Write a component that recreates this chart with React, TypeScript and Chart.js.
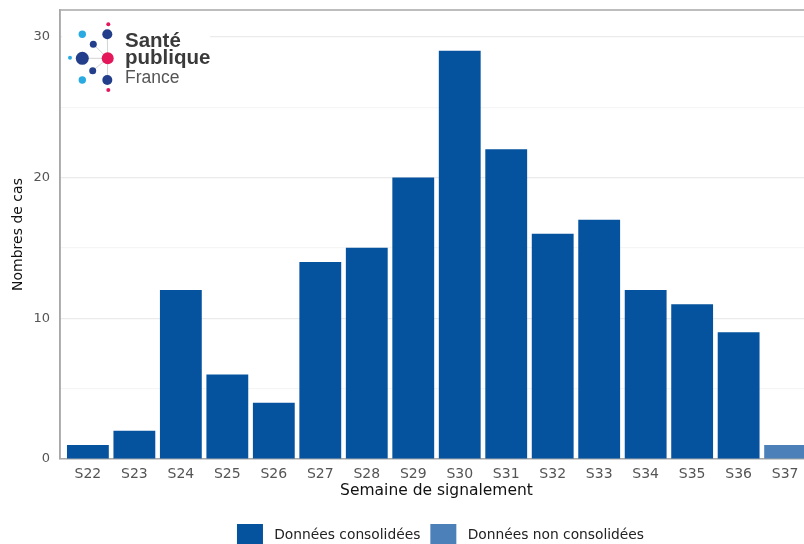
import { useEffect, useRef } from "react";
import { Chart, registerables } from "chart.js";

Chart.register(...registerables);

const weeks = ["S22", "S23", "S24", "S25", "S26", "S27", "S28", "S29", "S30", "S31", "S32", "S33", "S34", "S35", "S36", "S37"];
const consolidated: (number | null)[] = [1, 2, 12, 6, 4, 14, 15, 20, 29, 22, 16, 17, 12, 11, 9, null];
const nonConsolidated: (number | null)[] = [null, null, null, null, null, null, null, null, null, null, null, null, null, null, null, 1];
const yGridValues = [0, 5, 10, 15, 20, 25, 30];
const yLabelValues = [0, 10, 20, 30];
const seriesNames = ["Données consolidées", "Données non consolidées"];
const seriesColors = ["#05529E", "#4C80B8"];

const FONT = "DejaVu Sans";

const panelBorder = {
  id: "panelBorder",
  afterLayout(chart: any) {
    if (chart.legend) {
      chart.legend.left += 4;
      chart.legend.right += 4;
    }
  },
  afterDraw(chart: any) {
    const { ctx, chartArea } = chart;
    ctx.save();
    ctx.strokeStyle = "#a8a8a8";
    ctx.lineWidth = 1.5;
    ctx.beginPath();
    ctx.moveTo(chartArea.left, chartArea.bottom);
    ctx.lineTo(chartArea.left, chartArea.top);
    ctx.lineTo(chartArea.right, chartArea.top);
    ctx.stroke();
    ctx.restore();
  },
};

function toPoints(values: (number | null)[]) {
  return values
    .map((v, i) => ({ x: i + 1, y: v }))
    .filter((p) => p.y !== null);
}

export default function App() {
  const ref = useRef<HTMLCanvasElement>(null);

  useEffect(() => {
    if (!ref.current) return;
    const chart = new Chart(ref.current, {
      type: "bar",
      data: {
        datasets: [
          {
            label: seriesNames[0],
            data: toPoints(consolidated) as any,
            backgroundColor: seriesColors[0],
            borderWidth: 0,
            grouped: false,
            barPercentage: 0.9,
            categoryPercentage: 1,
          } as any,
          {
            label: seriesNames[1],
            data: toPoints(nonConsolidated) as any,
            backgroundColor: seriesColors[1],
            borderWidth: 0,
            grouped: false,
            barPercentage: 0.9,
            categoryPercentage: 1,
          } as any,
        ],
      },
      options: {
        responsive: false,
        animation: false,
        layout: { padding: { top: 10, left: 0, right: 3, bottom: 0 } },
        plugins: {
          tooltip: { enabled: false },
          legend: {
            position: "bottom",
            fullSize: false,
            labels: {
              boxWidth: 26,
              boxHeight: 22,
              padding: 10,
              color: "#222",
              font: { family: FONT, size: 13.8 },
              generateLabels(chart: any) {
                const items = Chart.defaults.plugins.legend.labels.generateLabels(chart);
                return items.map((it: any) => ({ ...it, text: " " + it.text, lineWidth: 0, strokeStyle: "transparent" }));
              },
            },
          },
        },
        scales: {
          x: {
            type: "linear",
            min: 0.4,
            max: 16.6,
            offset: false,
            afterFit(scale: any) {
              scale.height = 55;
            },
            afterBuildTicks(scale: any) {
              scale.ticks = weeks.map((_, i) => ({ value: i + 1 }));
            },
            grid: { display: false, drawTicks: false },
            border: { display: true, color: "#a8a8a8", width: 1.5 },
            ticks: {
              autoSkip: false,
              maxRotation: 0,
              padding: 7,
              color: "#555",
              font: { family: FONT, size: 14 },
              callback: (v: any) => weeks[Math.round(Number(v)) - 1] ?? "",
            },
            title: {
              display: true,
              text: "Semaine de signalement",
              color: "#111",
              font: { family: FONT, size: 15.5 },
              padding: { top: 0, bottom: 14 },
            },
          },
          y: {
            min: 0,
            max: 31.9,
            afterFit(scale: any) {
              scale.width = 60;
              scale.paddingTop = 0;
              scale.paddingBottom = 0;
            },
            afterBuildTicks(scale: any) {
              scale.ticks = yGridValues.map((v) => ({ value: v }));
            },
            grid: {
              drawTicks: false,
              color: (c: any) => (yLabelValues.includes(c.tick?.value) ? "#ebebeb" : "#f5f5f5"),
              lineWidth: 1.2,
            },
            border: { display: true, color: "#a8a8a8", width: 1.5 },
            ticks: {
              padding: 10,
              color: "#555",
              font: { family: FONT, size: 13 },
              callback: (v: any) => (yLabelValues.includes(Number(v)) ? String(v) : ""),
            },
            title: {
              display: true,
              text: "Nombres de cas",
              color: "#111",
              font: { family: FONT, size: 14 },
              padding: { top: 10, bottom: 0 },
            },
          },
        },
      },
      plugins: [panelBorder],
    } as any);
    return () => chart.destroy();
  }, []);

  return (
    <div style={{ position: "absolute", left: 0, top: 0, width: 804, height: 544, overflow: "hidden", background: "#fff" }}>
      <canvas ref={ref} width={816} height={556} style={{ display: "block" }} />
      <svg style={{ position: "absolute", left: 0, top: 0 }} width={220} height={110}>
        <rect x={62} y={12} width={148} height={90} fill="#fff" />
        <g stroke="#c8c8c8" strokeWidth={0.8}>
          <line x1={107.7} y1={58.3} x2={82.3} y2={58.3} />
          <line x1={107.7} y1={58.3} x2={93.3} y2={44.3} />
          <line x1={107.7} y1={58.3} x2={92.7} y2={70.7} />
          <line x1={107.7} y1={58.3} x2={107.3} y2={34.3} />
          <line x1={107.7} y1={58.3} x2={107.3} y2={80} />
        </g>
        <circle cx={82.3} cy={34.3} r={3.7} fill="#29ABE2" />
        <circle cx={82.3} cy={80} r={3.7} fill="#29ABE2" />
        <circle cx={70} cy={57.7} r={2} fill="#29ABE2" />
        <circle cx={107.3} cy={34.3} r={5} fill="#233E8B" />
        <circle cx={107.3} cy={80} r={5} fill="#233E8B" />
        <circle cx={93.3} cy={44.3} r={3.5} fill="#233E8B" />
        <circle cx={92.7} cy={70.7} r={3.5} fill="#233E8B" />
        <circle cx={82.3} cy={58.3} r={6.5} fill="#233E8B" />
        <circle cx={107.7} cy={58.3} r={6} fill="#E5175B" />
        <circle cx={108.3} cy={24.3} r={2} fill="#E5175B" />
        <circle cx={108.3} cy={90} r={2} fill="#E5175B" />
        <text x={125} y={46.5} fontFamily="Liberation Sans" fontWeight="bold" fontSize={20.5} fill="#3a3a3a">Santé</text>
        <text x={125} y={64} fontFamily="Liberation Sans" fontWeight="bold" fontSize={20.5} fill="#3a3a3a">publique</text>
        <text x={125} y={83.3} fontFamily="Liberation Sans" fontSize={17.5} fill="#555">France</text>
      </svg>
    </div>
  );
}
